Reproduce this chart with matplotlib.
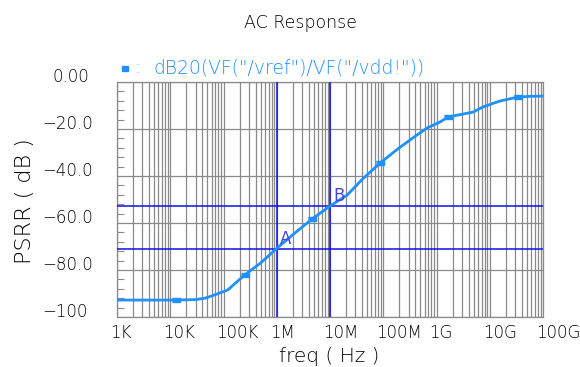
import numpy as np
import matplotlib.pyplot as plt
from matplotlib.patches import Rectangle

plt.rcParams["font.family"] = ["DejaVu Sans"]
plt.rcParams["font.weight"] = "light"

# ---- data ----
freq = [1e3, 1e4, 3e4, 4.5e4, 7e4, 1.2e5, 2.5e5, 5e5, 1e6, 2e6, 4.6e6, 1e7, 2.1e7,
        4e7, 8.7e7, 2e8, 3.6e8, 6.6e8, 1.17e9, 1.64e9, 4.85e9, 7.5e9, 1.55e10,
        3.4e10, 5.7e10, 1e11]
psrr = [-92.8, -92.8, -92.6, -92.0, -90.5, -88.5, -82.1, -77.0, -70.8, -65.0, -58.3,
        -52.8, -48.1, -41.5, -34.5, -28.0, -23.8, -19.6, -17.0, -14.9, -12.8, -10.6,
        -8.1, -6.4, -6.1, -6.0]
mark_freq = [1.3e4, 2.5e5, 4.6e6, 8.7e7, 1.64e9, 3.4e10]
mark_psrr = [-92.8, -82.1, -58.3, -34.5, -14.9, -6.4]

cursor_freq = [1e6, 1e7]
cursor_db = [-71.1, -52.8]
cursor_names = ["A", "B"]

yticks = [0, -20, -40, -60, -80, -100]
ylabels = ["0.00", "\u221220.0", "\u221240.0", "\u221260.0", "\u221280.0", "\u2212100"]
xticks = [1e3, 1e4, 1e5, 1e6, 1e7, 1e8, 1e9, 1e10, 1e11]
xlabels = ["1K", "10K", "100K", "1M", "10M", "100M", "1G", "10G", "100G"]

curve_col = "#1e90ff"
grid_col = "#8a8a8a"
cursor_col = "#1010e8"

fig = plt.figure(figsize=(5.8, 3.67), dpi=100)
ax = fig.add_axes([117/580, 50/367, 426/580, 235/367])
ax.set_xscale("log")
ax.set_xlim(1e3, 1e11)
ax.set_ylim(-100, 0)

# grid
ax.set_yticks(yticks)
ax.set_yticks(np.arange(-100, 0, 4), minor=True)
ax.set_xticks(xticks)
ax.grid(True, which="major", color=grid_col, lw=0.9)
ax.grid(True, which="minor", axis="x", color=grid_col, lw=0.9)
ax.tick_params(axis="x", which="both", length=0, labelbottom=False)
ax.tick_params(axis="y", which="major", length=0, labelleft=False)
ax.tick_params(axis="y", which="minor", direction="in", length=5, width=0.8, color=grid_col)
for s in ax.spines.values():
    s.set_color(grid_col)
    s.set_linewidth(0.9)

# tick labels, Cadence style (left aligned, shifted)
for v, lab in zip(yticks, ylabels):
    dx = -64 if v == 0 else -75
    ax.annotate(lab, xy=(0, v), xycoords=ax.get_yaxis_transform(), xytext=(dx, 5),
                textcoords="offset pixels", ha="left", va="center", fontsize=12,
                annotation_clip=False)
for f, lab in zip(xticks, xlabels):
    ax.annotate(lab, xy=(f, 0), xycoords=ax.get_xaxis_transform(), xytext=(-7, -16),
                textcoords="offset pixels", ha="left", va="center", fontsize=12,
                annotation_clip=False)

# cursors
for f, d, name in zip(cursor_freq, cursor_db, cursor_names):
    ax.axvline(f, color=cursor_col, lw=1.1, zorder=3)
    ax.axhline(d, color=cursor_col, lw=1.1, zorder=3)
    ax.annotate(name, xy=(f, d), xytext=(3, 1), textcoords="offset pixels",
                ha="left", va="bottom", fontsize=12, fontweight="normal",
                color="#4646e6", zorder=5)

# curve
rect = [(-1, -0.55), (1, -0.55), (1, 0.55), (-1, 0.55)]
ax.plot(freq, psrr, color=curve_col, lw=2.0, zorder=4)
ax.plot(mark_freq, mark_psrr, ls="none", marker=rect, ms=6, color=curve_col, zorder=4)

# titles / labels
fig.text(301/580, 1 - 23/367, "AC Response", ha="center", va="center", fontsize=12.5)
fig.add_artist(Rectangle((122/580, 1 - 70.5/367), 6/580, 4/367, color=curve_col,
                         transform=fig.transFigure))
fig.text(134/580, 1 - 68/367, ":", ha="left", va="center", fontsize=13, color=curve_col)
fig.text(153/580, 1 - 68/367, 'dB20(VF("/vref")/VF("/vdd!"))', ha="left", va="center",
         fontsize=13.5, color=curve_col)
fig.text(329/580, 1 - 357/367, "freq ( Hz )", ha="center", va="center", fontsize=14.5)
fig.text(25/580, 1 - 201/367, "PSRR ( dB )", ha="center", va="center", rotation=90,
         fontsize=16)

fig.savefig("out.png", dpi=100)
